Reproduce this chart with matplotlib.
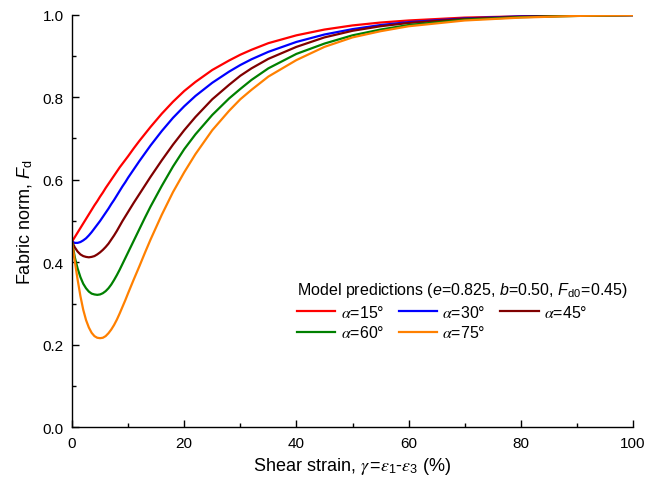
import matplotlib
matplotlib.use("Agg")
import matplotlib.pyplot as plt
from matplotlib.ticker import MultipleLocator

plt.rcParams['font.family'] = ['Liberation Sans', 'DejaVu Sans']
plt.rcParams['mathtext.fontset'] = 'custom'
plt.rcParams['mathtext.rm'] = 'Liberation Sans'
plt.rcParams['mathtext.it'] = 'STIXGeneral:italic'
plt.rcParams['mathtext.sf'] = 'Liberation Sans:italic'

gamma = [0, 0.5, 1, 1.5, 2, 2.5, 3, 3.5, 4, 4.5, 5, 5.5, 6, 6.5, 7, 7.5, 8, 8.5, 9, 9.5,
         10, 11, 12, 13, 14, 16, 18, 20, 22, 25, 28, 30, 32, 35, 40, 45, 50, 55, 60,
         70, 80, 90, 100]

fd_a15 = [0.45, 0.461, 0.472, 0.483, 0.494, 0.505, 0.516, 0.527, 0.538, 0.548, 0.559,
          0.569, 0.58, 0.59, 0.60, 0.61, 0.62, 0.63, 0.639, 0.648, 0.657, 0.676, 0.694,
          0.711, 0.728, 0.76, 0.789, 0.815, 0.837, 0.866, 0.889, 0.903, 0.915, 0.931,
          0.95, 0.964, 0.974, 0.981, 0.986, 0.993, 0.996, 0.998, 0.999]
fd_a30 = [0.45, 0.447, 0.447, 0.449, 0.453, 0.458, 0.465, 0.473, 0.482, 0.491, 0.50,
          0.51, 0.52, 0.53, 0.541, 0.551, 0.562, 0.573, 0.584, 0.594, 0.605, 0.625,
          0.645, 0.664, 0.683, 0.718, 0.75, 0.778, 0.803, 0.835, 0.862, 0.878, 0.892,
          0.91, 0.934, 0.952, 0.965, 0.975, 0.982, 0.991, 0.996, 0.998, 0.999]
fd_a45 = [0.45, 0.436, 0.426, 0.419, 0.415, 0.413, 0.412, 0.413, 0.415, 0.419, 0.424,
          0.43, 0.437, 0.445, 0.455, 0.465, 0.476, 0.488, 0.50, 0.511, 0.522, 0.544,
          0.565, 0.586, 0.607, 0.647, 0.685, 0.72, 0.752, 0.795, 0.83, 0.852, 0.87,
          0.893, 0.922, 0.945, 0.961, 0.972, 0.98, 0.99, 0.995, 0.998, 0.999]
fd_a60 = [0.45, 0.412, 0.385, 0.364, 0.348, 0.337, 0.329, 0.324, 0.322, 0.321, 0.322,
          0.325, 0.33, 0.337, 0.346, 0.357, 0.369, 0.382, 0.396, 0.41, 0.424, 0.452,
          0.48, 0.508, 0.535, 0.585, 0.632, 0.674, 0.71, 0.757, 0.797, 0.82, 0.842,
          0.87, 0.905, 0.93, 0.95, 0.964, 0.975, 0.988, 0.994, 0.997, 0.999]
fd_a75 = [0.45, 0.402, 0.358, 0.318, 0.285, 0.26, 0.242, 0.229, 0.221, 0.217, 0.216,
          0.217, 0.221, 0.228, 0.237, 0.248, 0.261, 0.276, 0.292, 0.308, 0.325, 0.358,
          0.39, 0.423, 0.455, 0.515, 0.57, 0.618, 0.662, 0.72, 0.767, 0.795, 0.818,
          0.85, 0.89, 0.922, 0.945, 0.96, 0.972, 0.986, 0.993, 0.997, 0.999]

labels = [r"$\alpha$=15°", r"$\alpha$=30°", r"$\alpha$=45°", r"$\alpha$=60°", r"$\alpha$=75°"]
colors = ['#FF0000', '#0000FF', '#800000', '#008000', '#FF8000']
series = [fd_a15, fd_a30, fd_a45, fd_a60, fd_a75]

fig = plt.figure(figsize=(6.65, 4.89), dpi=100)
ax = fig.add_axes([72 / 665, 1 - 428.3 / 489, (633 - 72) / 665, (428.3 - 15.7) / 489])

handles = []
for y, c, lab in zip(series, colors, labels):
    h, = ax.plot(gamma, y, color=c, lw=1.6, label=lab, solid_joinstyle='round')
    handles.append(h)

ax.set_xlim(0, 100)
ax.set_ylim(0, 1.0)
ax.xaxis.set_major_locator(MultipleLocator(20))
ax.xaxis.set_minor_locator(MultipleLocator(10))
ax.yaxis.set_major_locator(MultipleLocator(0.2))
ax.yaxis.set_minor_locator(MultipleLocator(0.1))
ax.yaxis.set_major_formatter(plt.FuncFormatter(lambda v, p: f"{v:.1f}"))
ax.tick_params(which='both', direction='in', top=False, right=False, labelsize=11, width=1.0)
ax.tick_params(which='major', length=5, pad=6)
ax.tick_params(which='minor', length=3)
ax.spines['top'].set_visible(False)
ax.spines['right'].set_visible(False)
for s in ('left', 'bottom'):
    ax.spines[s].set_linewidth(1.0)

ax.set_xlabel(r"Shear strain, $\gamma\,$=$\varepsilon_{1}$-$\varepsilon_{3}$ (%)", fontsize=13, labelpad=4)
ax.set_ylabel(r"Fabric norm, $\mathsf{F}_\mathrm{d}$", fontsize=13, labelpad=6)

order = [0, 3, 1, 4, 2]
leg = ax.legend([handles[i] for i in order], [labels[i] for i in order], ncol=3,
                title=r"Model predictions ($\mathsf{e}$=0.825, $\mathsf{b}$=0.50, $\mathsf{F}_\mathrm{d0}$=0.45)",
                title_fontsize=11.5, fontsize=11.5, frameon=False,
                loc='upper left', bbox_to_anchor=(292 / 665, 1 - 276 / 489),
                bbox_transform=fig.transFigure, alignment='left',
                handlelength=2.4, handletextpad=0.35, columnspacing=0.9,
                labelspacing=0.3, borderaxespad=0, borderpad=0.3)

fig.savefig("out.png", dpi=100)
